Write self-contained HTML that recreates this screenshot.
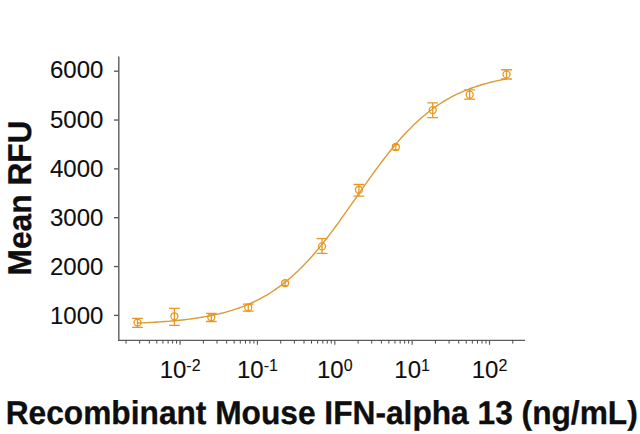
<!DOCTYPE html>
<html><head><meta charset="utf-8"><style>
html,body{margin:0;padding:0;background:#fff;overflow:hidden;}
svg{display:block;}
.t{font-family:"Liberation Sans",sans-serif;font-size:24px;fill:#0e0e0e;stroke:#0e0e0e;stroke-width:0.1px;}
.s{font-size:16px;}
.b{text-rendering:geometricPrecision;font-family:"Liberation Sans",sans-serif;font-size:31.7px;font-weight:bold;fill:#0e0e0e;stroke:#0e0e0e;stroke-width:0.32px;}
</style></head><body>
<svg width="640" height="434" viewBox="0 0 640 434">
<line x1="118.8" y1="56.5" x2="118.8" y2="341.1" stroke="#5c5c5c" stroke-width="1.4"/>
<line x1="118.1" y1="340.4" x2="525" y2="340.4" stroke="#5c5c5c" stroke-width="1.3"/>
<line x1="114" y1="71.20" x2="118.7" y2="71.20" stroke="#5c5c5c" stroke-width="1.4"/>
<text x="103.4" y="78.20" text-anchor="end" class="t">6000</text>
<line x1="114" y1="120.04" x2="118.7" y2="120.04" stroke="#5c5c5c" stroke-width="1.4"/>
<text x="103.4" y="128.24" text-anchor="end" class="t">5000</text>
<line x1="114" y1="168.88" x2="118.7" y2="168.88" stroke="#5c5c5c" stroke-width="1.4"/>
<text x="103.4" y="177.08" text-anchor="end" class="t">4000</text>
<line x1="114" y1="217.72" x2="118.7" y2="217.72" stroke="#5c5c5c" stroke-width="1.4"/>
<text x="103.4" y="225.92" text-anchor="end" class="t">3000</text>
<line x1="114" y1="266.56" x2="118.7" y2="266.56" stroke="#5c5c5c" stroke-width="1.4"/>
<text x="103.4" y="274.76" text-anchor="end" class="t">2000</text>
<line x1="114" y1="315.40" x2="118.7" y2="315.40" stroke="#5c5c5c" stroke-width="1.4"/>
<text x="103.4" y="323.60" text-anchor="end" class="t">1000</text>
<line x1="126.03" y1="340.4" x2="126.03" y2="343.6" stroke="#4a4a4a" stroke-width="1.0"/>
<line x1="139.66" y1="340.4" x2="139.66" y2="343.6" stroke="#4a4a4a" stroke-width="1.0"/>
<line x1="149.32" y1="340.4" x2="149.32" y2="343.6" stroke="#4a4a4a" stroke-width="1.0"/>
<line x1="156.82" y1="340.4" x2="156.82" y2="343.6" stroke="#4a4a4a" stroke-width="1.0"/>
<line x1="162.94" y1="340.4" x2="162.94" y2="343.6" stroke="#4a4a4a" stroke-width="1.0"/>
<line x1="168.12" y1="340.4" x2="168.12" y2="343.6" stroke="#4a4a4a" stroke-width="1.0"/>
<line x1="172.60" y1="340.4" x2="172.60" y2="343.6" stroke="#4a4a4a" stroke-width="1.0"/>
<line x1="176.56" y1="340.4" x2="176.56" y2="343.6" stroke="#4a4a4a" stroke-width="1.0"/>
<line x1="180.10" y1="340.4" x2="180.10" y2="344.8" stroke="#5c5c5c" stroke-width="1.2"/>
<line x1="203.38" y1="340.4" x2="203.38" y2="343.6" stroke="#4a4a4a" stroke-width="1.0"/>
<line x1="217.01" y1="340.4" x2="217.01" y2="343.6" stroke="#4a4a4a" stroke-width="1.0"/>
<line x1="226.67" y1="340.4" x2="226.67" y2="343.6" stroke="#4a4a4a" stroke-width="1.0"/>
<line x1="234.17" y1="340.4" x2="234.17" y2="343.6" stroke="#4a4a4a" stroke-width="1.0"/>
<line x1="240.29" y1="340.4" x2="240.29" y2="343.6" stroke="#4a4a4a" stroke-width="1.0"/>
<line x1="245.47" y1="340.4" x2="245.47" y2="343.6" stroke="#4a4a4a" stroke-width="1.0"/>
<line x1="249.95" y1="340.4" x2="249.95" y2="343.6" stroke="#4a4a4a" stroke-width="1.0"/>
<line x1="253.91" y1="340.4" x2="253.91" y2="343.6" stroke="#4a4a4a" stroke-width="1.0"/>
<line x1="257.45" y1="340.4" x2="257.45" y2="344.8" stroke="#5c5c5c" stroke-width="1.2"/>
<line x1="280.73" y1="340.4" x2="280.73" y2="343.6" stroke="#4a4a4a" stroke-width="1.0"/>
<line x1="294.36" y1="340.4" x2="294.36" y2="343.6" stroke="#4a4a4a" stroke-width="1.0"/>
<line x1="304.02" y1="340.4" x2="304.02" y2="343.6" stroke="#4a4a4a" stroke-width="1.0"/>
<line x1="311.52" y1="340.4" x2="311.52" y2="343.6" stroke="#4a4a4a" stroke-width="1.0"/>
<line x1="317.64" y1="340.4" x2="317.64" y2="343.6" stroke="#4a4a4a" stroke-width="1.0"/>
<line x1="322.82" y1="340.4" x2="322.82" y2="343.6" stroke="#4a4a4a" stroke-width="1.0"/>
<line x1="327.30" y1="340.4" x2="327.30" y2="343.6" stroke="#4a4a4a" stroke-width="1.0"/>
<line x1="331.26" y1="340.4" x2="331.26" y2="343.6" stroke="#4a4a4a" stroke-width="1.0"/>
<line x1="334.80" y1="340.4" x2="334.80" y2="344.8" stroke="#5c5c5c" stroke-width="1.2"/>
<line x1="358.08" y1="340.4" x2="358.08" y2="343.6" stroke="#4a4a4a" stroke-width="1.0"/>
<line x1="371.71" y1="340.4" x2="371.71" y2="343.6" stroke="#4a4a4a" stroke-width="1.0"/>
<line x1="381.37" y1="340.4" x2="381.37" y2="343.6" stroke="#4a4a4a" stroke-width="1.0"/>
<line x1="388.87" y1="340.4" x2="388.87" y2="343.6" stroke="#4a4a4a" stroke-width="1.0"/>
<line x1="394.99" y1="340.4" x2="394.99" y2="343.6" stroke="#4a4a4a" stroke-width="1.0"/>
<line x1="400.17" y1="340.4" x2="400.17" y2="343.6" stroke="#4a4a4a" stroke-width="1.0"/>
<line x1="404.65" y1="340.4" x2="404.65" y2="343.6" stroke="#4a4a4a" stroke-width="1.0"/>
<line x1="408.61" y1="340.4" x2="408.61" y2="343.6" stroke="#4a4a4a" stroke-width="1.0"/>
<line x1="412.15" y1="340.4" x2="412.15" y2="344.8" stroke="#5c5c5c" stroke-width="1.2"/>
<line x1="435.43" y1="340.4" x2="435.43" y2="343.6" stroke="#4a4a4a" stroke-width="1.0"/>
<line x1="449.06" y1="340.4" x2="449.06" y2="343.6" stroke="#4a4a4a" stroke-width="1.0"/>
<line x1="458.72" y1="340.4" x2="458.72" y2="343.6" stroke="#4a4a4a" stroke-width="1.0"/>
<line x1="466.22" y1="340.4" x2="466.22" y2="343.6" stroke="#4a4a4a" stroke-width="1.0"/>
<line x1="472.34" y1="340.4" x2="472.34" y2="343.6" stroke="#4a4a4a" stroke-width="1.0"/>
<line x1="477.52" y1="340.4" x2="477.52" y2="343.6" stroke="#4a4a4a" stroke-width="1.0"/>
<line x1="482.00" y1="340.4" x2="482.00" y2="343.6" stroke="#4a4a4a" stroke-width="1.0"/>
<line x1="485.96" y1="340.4" x2="485.96" y2="343.6" stroke="#4a4a4a" stroke-width="1.0"/>
<line x1="489.50" y1="340.4" x2="489.50" y2="344.8" stroke="#5c5c5c" stroke-width="1.2"/>
<line x1="512.78" y1="340.4" x2="512.78" y2="343.6" stroke="#4a4a4a" stroke-width="1.0"/>
<text x="159.64" y="378.3" class="t">10</text>
<text x="186.33" y="370.7" class="t s">-2</text>
<text x="236.99" y="378.3" class="t">10</text>
<text x="263.68" y="370.7" class="t s">-1</text>
<text x="317.00" y="378.3" class="t">10</text>
<text x="343.70" y="370.7" class="t s">0</text>
<text x="394.35" y="378.3" class="t">10</text>
<text x="421.05" y="370.7" class="t s">1</text>
<text x="471.70" y="378.3" class="t">10</text>
<text x="498.40" y="370.7" class="t s">2</text>
<path d="M137.50,323.04 L139.98,322.94 L142.45,322.83 L144.93,322.72 L147.41,322.59 L149.88,322.47 L152.36,322.33 L154.84,322.19 L157.31,322.03 L159.79,321.87 L162.27,321.70 L164.75,321.53 L167.22,321.34 L169.70,321.14 L172.18,320.93 L174.65,320.70 L177.13,320.47 L179.61,320.22 L182.08,319.96 L184.56,319.69 L187.04,319.39 L189.51,319.09 L191.99,318.76 L194.47,318.42 L196.94,318.06 L199.42,317.68 L201.90,317.28 L204.38,316.86 L206.85,316.41 L209.33,315.94 L211.81,315.45 L214.28,314.93 L216.76,314.38 L219.24,313.81 L221.71,313.20 L224.19,312.56 L226.67,311.89 L229.14,311.18 L231.62,310.44 L234.10,309.66 L236.57,308.84 L239.05,307.98 L241.53,307.07 L244.01,306.13 L246.48,305.13 L248.96,304.09 L251.44,303.00 L253.91,301.85 L256.39,300.65 L258.87,299.40 L261.34,298.09 L263.82,296.72 L266.30,295.29 L268.77,293.79 L271.25,292.23 L273.73,290.61 L276.20,288.91 L278.68,287.15 L281.16,285.32 L283.64,283.41 L286.11,281.43 L288.59,279.38 L291.07,277.25 L293.54,275.05 L296.02,272.77 L298.50,270.41 L300.97,267.98 L303.45,265.47 L305.93,262.88 L308.40,260.22 L310.88,257.48 L313.36,254.68 L315.83,251.80 L318.31,248.85 L320.79,245.83 L323.27,242.75 L325.74,239.61 L328.22,236.41 L330.70,233.15 L333.17,229.85 L335.65,226.49 L338.13,223.10 L340.60,219.66 L343.08,216.19 L345.56,212.70 L348.03,209.18 L350.51,205.64 L352.99,202.09 L355.46,198.54 L357.94,194.98 L360.42,191.43 L362.89,187.89 L365.37,184.36 L367.85,180.85 L370.33,177.37 L372.80,173.92 L375.28,170.51 L377.76,167.14 L380.23,163.81 L382.71,160.53 L385.19,157.31 L387.66,154.14 L390.14,151.04 L392.62,147.99 L395.09,145.02 L397.57,142.11 L400.05,139.27 L402.52,136.50 L405.00,133.81 L407.48,131.19 L409.96,128.65 L412.43,126.18 L414.91,123.80 L417.39,121.48 L419.86,119.25 L422.34,117.09 L424.82,115.00 L427.29,112.99 L429.77,111.06 L432.25,109.19 L434.72,107.40 L437.20,105.68 L439.68,104.03 L442.15,102.44 L444.63,100.92 L447.11,99.46 L449.59,98.06 L452.06,96.73 L454.54,95.45 L457.02,94.23 L459.49,93.06 L461.97,91.95 L464.45,90.88 L466.92,89.87 L469.40,88.90 L471.88,87.98 L474.35,87.10 L476.83,86.26 L479.31,85.47 L481.78,84.71 L484.26,83.99 L486.74,83.30 L489.22,82.65 L491.69,82.03 L494.17,81.44 L496.65,80.88 L499.12,80.35 L501.60,79.84 L504.08,79.36 L506.55,78.91" fill="none" stroke="#DC9A32" stroke-width="1.4"/>
<path d="M132.10,318.4 H142.90 M132.10,327.4 H142.90 M137.50,318.4 V327.4" stroke="#E9961F" stroke-width="1.3" fill="none"/>
<circle cx="137.50" cy="322.6" r="3.5" stroke="#E9961F" stroke-width="1.3" fill="none"/>
<path d="M169.01,308.3 H179.81 M169.01,325.4 H179.81 M174.41,308.3 V325.4" stroke="#E9961F" stroke-width="1.3" fill="none"/>
<circle cx="174.41" cy="316.3" r="3.5" stroke="#E9961F" stroke-width="1.3" fill="none"/>
<path d="M205.91,313.4 H216.71 M205.91,321.5 H216.71 M211.31,313.4 V321.5" stroke="#E9961F" stroke-width="1.3" fill="none"/>
<circle cx="211.31" cy="317.3" r="3.5" stroke="#E9961F" stroke-width="1.3" fill="none"/>
<path d="M242.82,304.2 H253.62 M242.82,311.1 H253.62 M248.22,304.2 V311.1" stroke="#E9961F" stroke-width="1.3" fill="none"/>
<circle cx="248.22" cy="307.5" r="3.5" stroke="#E9961F" stroke-width="1.3" fill="none"/>
<path d="M281.72,281.0 H288.52 M281.72,285.6 H288.52 M285.12,281.0 V285.6" stroke="#E9961F" stroke-width="1.2" fill="none"/>
<circle cx="285.12" cy="283.1" r="3.5" stroke="#E9961F" stroke-width="1.3" fill="none"/>
<path d="M316.63,238.7 H327.43 M316.63,253.4 H327.43 M322.03,238.7 V253.4" stroke="#E9961F" stroke-width="1.3" fill="none"/>
<circle cx="322.03" cy="246.4" r="3.5" stroke="#E9961F" stroke-width="1.3" fill="none"/>
<path d="M353.53,184.5 H364.33 M353.53,196.2 H364.33 M358.93,184.5 V196.2" stroke="#E9961F" stroke-width="1.3" fill="none"/>
<circle cx="358.93" cy="189.8" r="3.5" stroke="#E9961F" stroke-width="1.3" fill="none"/>
<path d="M392.44,144.6 H399.24 M392.44,149.8 H399.24 M395.84,144.6 V149.8" stroke="#E9961F" stroke-width="1.2" fill="none"/>
<circle cx="395.84" cy="147.0" r="3.5" stroke="#E9961F" stroke-width="1.3" fill="none"/>
<path d="M427.34,102.9 H438.14 M427.34,117.7 H438.14 M432.74,102.9 V117.7" stroke="#E9961F" stroke-width="1.3" fill="none"/>
<circle cx="432.74" cy="110.1" r="3.5" stroke="#E9961F" stroke-width="1.3" fill="none"/>
<path d="M464.25,89.9 H475.05 M464.25,99.2 H475.05 M469.65,89.9 V99.2" stroke="#E9961F" stroke-width="1.3" fill="none"/>
<circle cx="469.65" cy="94.7" r="3.5" stroke="#E9961F" stroke-width="1.3" fill="none"/>
<path d="M501.15,69.75 H511.95 M501.15,79 H511.95 M506.55,69.75 V79" stroke="#E9961F" stroke-width="1.3" fill="none"/>
<circle cx="506.55" cy="74.4" r="3.5" stroke="#E9961F" stroke-width="1.3" fill="none"/>
<text transform="translate(5.7,423.9) scale(1,1.04)" x="0" y="0" class="b">Recombinant Mouse IFN-alpha 13 (ng/mL)</text>
<text transform="translate(31.4,275.42) rotate(-90) scale(1,1.04)" x="0" y="0" class="b">Mean RFU</text>
</svg></body></html>
